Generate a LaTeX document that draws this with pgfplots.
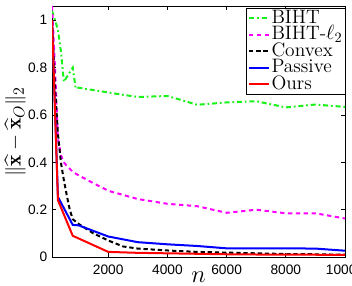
\documentclass[border=0pt]{standalone}
\usepackage{fontspec}
\usepackage{amsmath,amssymb}
\usepackage{pgfplots}
\pgfplotsset{compat=1.18}
\usetikzlibrary{calc}
\newfontfamily\tickfont{Liberation Sans}
\definecolor{colG}{rgb}{0.1,0.95,0.1}
\definecolor{colM}{rgb}{1,0,1}
\definecolor{colB}{rgb}{0,0,1}
\definecolor{colR}{rgb}{1,0,0}
\begin{document}
\begin{tikzpicture}
\begin{axis}[
  width=205pt, height=175.7pt, scale only axis,
  xmin=100, xmax=10000, ymin=0, ymax=1.06,
  xtick={2000,4000,6000,8000,10000},
  ytick={0,0.2,0.4,0.6,0.8,1},
  yticklabels={0,0.2,0.4,0.6,0.8,1},
  scaled x ticks=false,
  /pgf/number format/1000 sep={},
  /pgf/number format/assume math mode=true,
  tick label style={font=\tickfont\fontsize{9.6}{11}\selectfont},
  yticklabel style={anchor=east, inner sep=0pt, xshift=-3.2pt},
  xticklabel style={anchor=north, inner sep=0pt, yshift=-5.2pt},
  tick align=inside, tick pos=both,
  major tick length=3pt,
  axis line style={line width=0.6pt},
  every tick/.style={line width=0.5pt, black},
  xlabel={$n$},
  ylabel={$\|\widehat{\mathbf{x}}-\widehat{\mathbf{x}}_O\|_2$},
  every axis x label/.style={at={(axis description cs:0.5,-0.103)}, anchor=base, font=\fontsize{16}{17}\selectfont},
  every axis y label/.style={at={(axis description cs:-0.125,0.5)}, anchor=center, rotate=90, font=\fontsize{15}{16}\selectfont},
  legend style={at={(axis description cs:1,1)}, anchor=north east, xshift=0.5pt, yshift=-1.4pt,
    font=\fontsize{13.6}{14}\selectfont, draw=black, line width=0.5pt, inner sep=1pt, row sep=0pt,
    nodes={inner ysep=0pt, inner xsep=1pt, text height=9.4pt, text depth=2.2pt}},
  legend cell align=left,
  legend image code/.code={\draw[#1] (0pt,0pt) -- (14pt,0pt);},
]
\addplot[colG, line width=1.4pt, dash pattern=on 3.5pt off 2pt on 1.2pt off 2pt] coordinates {
(100,1.04) (200,1.0) (300,0.96) (400,0.87) (500,0.74) (600,0.76) (700,0.78) (800,0.80) (900,0.712)
(1000,0.715) (1500,0.705) (2000,0.695) (2500,0.685) (3000,0.676) (4000,0.68) (4500,0.662) (5000,0.643)
(6000,0.653) (7000,0.658) (8000,0.632) (9000,0.644) (10000,0.634)};
\addlegendentry{BIHT}
\addplot[colM, line width=1.4pt, dash pattern=on 3pt off 2.5pt] coordinates {
(100,1.06) (200,0.80) (300,0.50) (400,0.43) (500,0.40) (600,0.385) (800,0.36) (1000,0.345) (1500,0.312)
(2000,0.28) (3000,0.245) (4000,0.225) (5000,0.215) (6000,0.187) (7000,0.2) (8000,0.185) (9000,0.185) (10000,0.163)};
\addlegendentry{BIHT-$\ell_2$}
\addplot[black, line width=1.4pt, dash pattern=on 3pt off 2pt] coordinates {
(100,1.0) (200,0.72) (300,0.52) (400,0.40) (500,0.325) (600,0.26) (700,0.20) (800,0.16) (1000,0.14)
(1500,0.10) (2000,0.07) (2500,0.045) (3000,0.036) (4000,0.028) (5000,0.022) (6000,0.019) (7000,0.016)
(8000,0.013) (9000,0.012) (10000,0.01)};
\addlegendentry{Convex}
\addplot[colB, line width=1.4pt] coordinates {
(100,1.0) (300,0.254) (800,0.136) (1000,0.134) (2000,0.087) (3000,0.063) (4000,0.054) (5000,0.047)
(6000,0.037) (7000,0.037) (8000,0.037) (9000,0.036) (10000,0.027)};
\addlegendentry{Passive}
\addplot[colR, line width=1.4pt] coordinates {
(100,1.0) (300,0.24) (800,0.09) (2000,0.022) (3000,0.018) (4000,0.016) (5000,0.014) (6000,0.012)
(7000,0.011) (8000,0.01) (9000,0.01) (10000,0.009)};
\addlegendentry{Ours}
\end{axis}
\pgfresetboundingbox
\path[use as bounding box] ($(current axis.south west)+(-36.4pt,-19.6pt)$) rectangle ($(current axis.north east)+(4.9pt,4.2pt)$);
\end{tikzpicture}
\end{document}
